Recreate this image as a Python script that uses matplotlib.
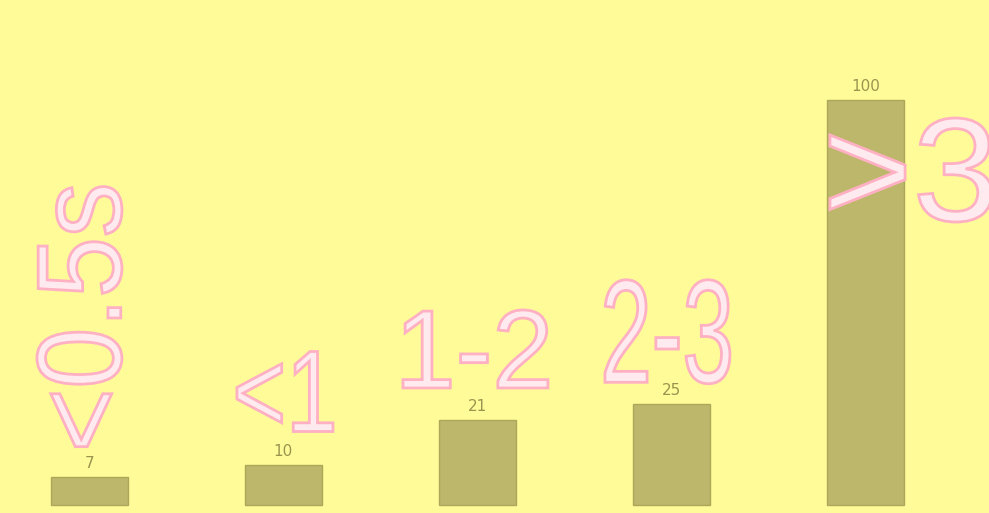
import numpy as np
import matplotlib
matplotlib.use('Agg')
import matplotlib.pyplot as plt
from matplotlib.textpath import TextPath
from matplotlib.patches import PathPatch
from matplotlib.font_manager import FontProperties
from matplotlib.transforms import Affine2D, IdentityTransform

# data
categories = ['<0.5s', '<1', '1-2', '2-3', '>3']
values = [7, 10, 21, 25, 100]
value_labels = [str(v) for v in values]

# ink box of each big label, pixels relative to the bar top centre: (left, right, bottom, top)
label_boxes = [(-52.5, 32.5, 30, 290),
			   (-46.5, 49.5, 33, 113),
			   (-74.5, 70.5, 32, 110),
			   (-66.5, 58.5, 20, 124),
			   (-35.5, 126.5, -122, -18)]
label_rot = [90, 0, 0, 0, 0]

BG = '#FFFB99'
BAR = '#BDB76B'

fig = plt.figure(figsize=(9.89, 5.13), dpi=100)
fig.patch.set_facecolor(BG)
ax = fig.add_axes([0, 0, 1, 1])
ax.set_facecolor(BG)

x = np.arange(len(categories))
ax.bar(x, values, width=0.4, color=BAR, edgecolor='#ADA75A', linewidth=1)
ax.set_xlim(-0.461, 4.637)
ax.set_ylim(-1.975, 124.7)
ax.axis('off')

for i, v in enumerate(values):
	ax.annotate(value_labels[i], (x[i], v), xytext=(0, 6), textcoords='offset pixels',
				ha='center', va='bottom', fontsize=11, color='#6E6A30', alpha=0.7)

prop = FontProperties(family='Liberation Sans')
for i, cat in enumerate(categories):
	cx, cy = ax.transData.transform((x[i], values[i]))
	path = TextPath((0, 0), cat, size=100, prop=prop)
	path = Affine2D().rotate_deg(label_rot[i]).transform_path(path)
	ext = path.get_extents()
	l, r, b, t = label_boxes[i]
	tr = Affine2D().translate(-ext.x0, -ext.y0).scale((r - l) / ext.width, (t - b) / ext.height)
	tr = tr.translate(cx + l, cy + b)
	fig.add_artist(PathPatch(tr.transform_path(path), transform=IdentityTransform(),
							 facecolor='#FFEAF0', edgecolor='#FFB0C2', linewidth=2))

fig.savefig('out.png', dpi=100, facecolor=BG)
